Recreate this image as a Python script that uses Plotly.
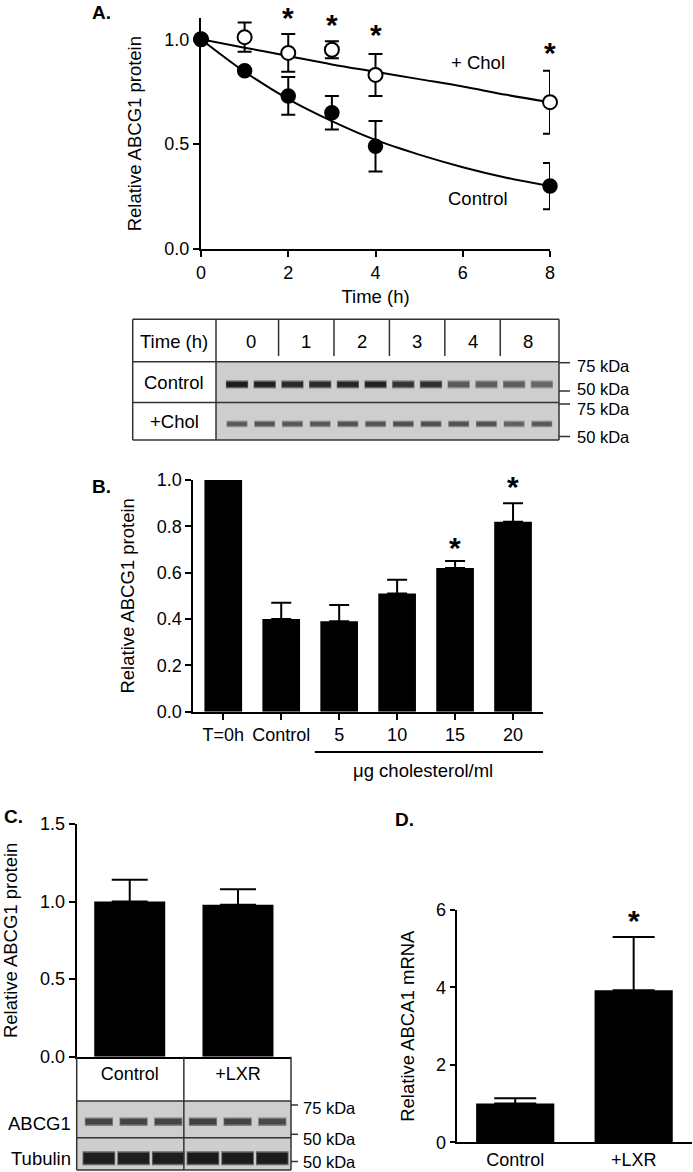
import plotly.graph_objects as go

W, H = 693, 1172
FONT = "Arial, Liberation Sans, Helvetica, sans-serif"


def px(x):
    return x / W


def py(y):
    return 1 - y / H


def to_paper(v, dom, rng):
    return dom[0] + (v - rng[0]) / (rng[1] - rng[0]) * (dom[1] - dom[0])


# ---------------- Panel A data ----------------
time_h = [0, 1, 2, 3, 4, 8]
control_mean = [1.0, 0.85, 0.73, 0.65, 0.49, 0.30]
control_sem = [0.0, 0.0, 0.09, 0.08, 0.12, 0.11]
chol_mean = [1.0, 1.01, 0.935, 0.95, 0.83, 0.70]
chol_sem = [0.0, 0.07, 0.09, 0.04, 0.10, 0.15]
fit_t = [0, 1, 2, 3, 4, 5, 6, 7, 8]
control_fit = [1.0, 0.845, 0.715, 0.61, 0.52, 0.45, 0.39, 0.34, 0.30]
chol_fit = [1.0, 0.96, 0.92, 0.88, 0.845, 0.81, 0.775, 0.735, 0.70]
sigA_t = [2, 3, 4, 8]
sigA_y = [1.128, 1.097, 1.051, 0.961]
xA_ticks = [0, 2, 4, 6, 8]
yA_ticks = [0.0, 0.5, 1.0]

# Panel A blot
blot_times = ["0", "1", "2", "3", "4", "8"]
blot_rows = ["Control", "+Chol"]
control_bands = [0.95, 0.93, 0.88, 0.87, 0.90, 0.93, 0.82, 0.85, 0.62, 0.60, 0.60, 0.55]
chol_bands = [0.64, 0.67, 0.65, 0.65, 0.68, 0.67, 0.70, 0.70, 0.68, 0.68, 0.60, 0.65]
kdaA = ["75 kDa", "50 kDa", "75 kDa", "50 kDa"]

# ---------------- Panel B data ----------------
b_cats = ["T=0h", "Control", "5", "10", "15", "20"]
b_mean = [1.0, 0.40, 0.39, 0.51, 0.62, 0.82]
b_sem = [0.0, 0.07, 0.07, 0.06, 0.03, 0.08]
sigB_cats = ["15", "20"]
sigB_y = [0.734, 0.994]
yB_ticks = [0.0, 0.2, 0.4, 0.6, 0.8, 1.0]

# ---------------- Panel C data ----------------
c_cats = ["Control", "+LXR"]
c_mean = [1.0, 0.98]
c_sem = [0.14, 0.10]
yC_ticks = [0.0, 0.5, 1.0, 1.5]
abcg1_bands = [0.74, 0.74, 0.74, 0.77, 0.75, 0.72]
tubulin_bands = [0.95, 0.95, 0.95, 0.97, 0.96, 0.96]
kdaC = ["75 kDa", "50 kDa", "50 kDa"]

# ---------------- Panel D data ----------------
d_cats = ["Control", "+LXR"]
d_mean = [1.0, 3.93]
d_sem = [0.14, 1.37]
sigD_y = [5.87]
yD_ticks = [0, 2, 4, 6]

# ---------------- layout geometry (px) ----------------
A_x = [px(201), px(550)]
A_y = [py(249), py(18.3)]
A_yr = [0, 1.1]
BL_x = [px(216), px(559)]
BL_y = [py(440), py(361.7)]
B_x = [px(193.3), px(543)]
B_y = [py(711.7), py(480)]
B_yr = [0, 1.0]
B_xr = [-0.517, 5.517]
C_x = [px(76.7), px(291)]
C_y = [py(1056.7), py(824)]
CB_x = [px(76.7), px(291)]
CB_y = [py(1170), py(1101)]
D_x = [px(456.7), px(691.7)]
D_y = [py(1142.3), py(910)]
D_yr = [0, 6]

fig = go.Figure()

# ---- Panel A traces ----
fig.add_trace(go.Scatter(x=fit_t, y=chol_fit, mode="lines", line=dict(color="black", width=2, shape="spline"),
                         xaxis="x", yaxis="y", hoverinfo="skip"))
fig.add_trace(go.Scatter(x=fit_t, y=control_fit, mode="lines", line=dict(color="black", width=2, shape="spline"),
                         xaxis="x", yaxis="y", hoverinfo="skip"))
fig.add_trace(go.Scatter(x=time_h, y=chol_mean, mode="markers",
                         marker=dict(size=14, color="white", line=dict(color="black", width=2)),
                         error_y=dict(type="data", array=chol_sem, color="black", thickness=2, width=7),
                         xaxis="x", yaxis="y", cliponaxis=False, name="+ Chol"))
fig.add_trace(go.Scatter(x=time_h, y=control_mean, mode="markers",
                         marker=dict(size=14, color="black", line=dict(color="black", width=1.5)),
                         error_y=dict(type="data", array=control_sem, color="black", thickness=2, width=7),
                         xaxis="x", yaxis="y", cliponaxis=False, name="Control"))


# ---- blot bands helper ----
def gray(i):
    v = int(round(205 - 185 * i))
    return f"rgb({v},{v},{v})"


def soft(i):
    v = int(round(205 - 110 * i))
    return f"rgb({v},{v},{v})"


def band_trace(vals, rowpos, xa, ya, size, thick):
    lanes = list(range(1, len(vals) + 1))
    out = []
    out.append(go.Scatter(x=lanes, y=[rowpos] * len(vals), mode="markers", xaxis=xa, yaxis=ya,
                          marker=dict(symbol="line-ew", size=size * 1.06,
                                      line=dict(width=thick + 3, color=[soft(v) for v in vals])),
                          hoverinfo="skip", cliponaxis=False))
    out.append(go.Scatter(x=lanes, y=[rowpos] * len(vals), mode="markers", xaxis=xa, yaxis=ya,
                          marker=dict(symbol="line-ew", size=size,
                                      line=dict(width=thick, color=[gray(v) for v in vals])),
                          hoverinfo="skip", cliponaxis=False))
    return out


for t in band_trace(control_bands, 0.58, "x2", "y2", 15, 5):
    fig.add_trace(t)
for t in band_trace(chol_bands, 1.59, "x2", "y2", 14, 3.5):
    fig.add_trace(t)

# ---- Panel B ----
fig.add_trace(go.Bar(x=b_cats, y=b_mean, width=0.65, marker=dict(color="black", line=dict(width=0)),
                     error_y=dict(type="data", array=b_sem, arrayminus=[0] * len(b_sem), symmetric=False,
                                  color="black", thickness=2, width=10),
                     xaxis="x3", yaxis="y3"))

# ---- Panel C ----
fig.add_trace(go.Bar(x=c_cats, y=c_mean, width=0.656, marker=dict(color="black", line=dict(width=0)),
                     error_y=dict(type="data", array=c_sem, arrayminus=[0] * len(c_sem), symmetric=False,
                                  color="black", thickness=2, width=18),
                     xaxis="x4", yaxis="y4"))
for t in band_trace(abcg1_bands, 0.6, "x5", "y5", 19, 5.5):
    fig.add_trace(t)
for t in band_trace(tubulin_bands, 1.66, "x5", "y5", 22, 11):
    fig.add_trace(t)

# ---- Panel D ----
fig.add_trace(go.Bar(x=d_cats, y=d_mean, width=0.66, marker=dict(color="black", line=dict(width=0)),
                     error_y=dict(type="data", array=d_sem, arrayminus=[0] * len(d_sem), symmetric=False,
                                  color="black", thickness=2, width=21),
                     xaxis="x6", yaxis="y6"))

tickfont = dict(family=FONT, size=18, color="black")
titlefont = dict(family=FONT, size=18.5, color="black")
common = dict(showgrid=False, zeroline=False, showline=True, linecolor="black", linewidth=2, automargin=False,
              tickcolor="black", tickwidth=2, tickfont=tickfont, fixedrange=True)
hidden = dict(visible=False, showgrid=False, zeroline=False, fixedrange=True, automargin=False)

fig.update_layout(
    template="none",
    width=W, height=H, margin=dict(l=0, r=0, t=0, b=0, pad=0, autoexpand=False),
    paper_bgcolor="white", plot_bgcolor="rgba(0,0,0,0)",
    showlegend=False, font=dict(family=FONT, color="black"),
    xaxis=dict(domain=A_x, range=[0, 8], tickvals=xA_ticks, ticks="outside", ticklen=6,
               title=dict(text="Time (h)", font=titlefont, standoff=8), anchor="y", **common),
    yaxis=dict(domain=A_y, range=A_yr, tickvals=yA_ticks, ticktext=[f"{v:.1f}" for v in yA_ticks],
               ticks="outside", ticklen=6, title=dict(text="Relative ABCG1 protein", font=titlefont, standoff=18),
               anchor="x", **common),
    xaxis2=dict(domain=BL_x, range=[0.242, 12.62], anchor="y2", **hidden),
    yaxis2=dict(domain=BL_y, range=[2.0, 0.0], anchor="x2", **hidden),
    xaxis3=dict(domain=B_x, range=B_xr, type="category", ticks="outside", ticklen=6, anchor="y3", **common),
    yaxis3=dict(domain=B_y, range=B_yr, tickvals=yB_ticks, ticktext=[f"{v:.1f}" for v in yB_ticks],
                ticks="outside", ticklen=6, title=dict(text="Relative ABCG1 protein", font=titlefont, standoff=17),
                anchor="x3", **common),
    xaxis4=dict(domain=C_x, range=[-0.49, 1.49], type="category", ticks="", anchor="y4", **common),
    yaxis4=dict(domain=C_y, range=[0, 1.5], tickvals=yC_ticks, ticktext=[f"{v:.1f}" for v in yC_ticks],
                ticks="outside", ticklen=6, title=dict(text="Relative ABCG1 protein", font=titlefont, standoff=20),
                anchor="x4", **common),
    xaxis5=dict(domain=CB_x, range=[0.36, 6.54], anchor="y5", **hidden),
    yaxis5=dict(domain=CB_y, range=[2.0, 0.0], anchor="x5", **hidden),
    xaxis6=dict(domain=D_x, range=[-0.494, 1.49], type="category", ticks="", anchor="y6", **common),
    yaxis6=dict(domain=D_y, range=D_yr, tickvals=yD_ticks, ticks="outside", ticklen=5,
                title=dict(text="Relative ABCA1 mRNA", font=titlefont, standoff=17), anchor="x6", **common),
)

shapes = []
ann = []
LC = "#333333"


def line(x0, y0, x1, y1, w=1.5, xref="paper", yref="paper", color=LC):
    shapes.append(dict(type="line", x0=x0, y0=y0, x1=x1, y1=y1, xref=xref, yref=yref,
                       line=dict(color=color, width=w), layer="above"))


def text(x, y, s, size=18.5, xref="paper", yref="paper", xanchor="center", yanchor="middle", bold=False, yshift=0):
    ann.append(dict(x=x, y=y, xref=xref, yref=yref, text=f"<b>{s}</b>" if bold else s, showarrow=False,
                    xanchor=xanchor, yanchor=yanchor, yshift=yshift,
                    font=dict(family=FONT, size=size, color="black")))


# panel letters
text(px(90), py(13), "A.", size=19, xanchor="left", bold=True)
text(px(90), py(486), "B.", size=19, xanchor="left", bold=True)
text(px(2), py(816), "C.", size=19, xanchor="left", bold=True)
text(px(393), py(819), "D.", size=19, xanchor="left", bold=True)

# A: series labels & significance
text(6.35, 0.89, "+ Chol", xref="x", yref="y")
text(6.35, 0.243, "Control", xref="x", yref="y")
for t, v in zip(sigA_t, sigA_y):
    text(t, to_paper(v, A_y, A_yr), "*", size=30, xref="x", bold=True, yshift=-5.5)

# A: blot table
shapes.append(dict(type="rect", xref="paper", yref="paper", x0=px(216), x1=px(559), y0=py(440), y1=py(361.7),
                   fillcolor="rgb(206,206,206)", line=dict(width=0), layer="below"))
line(px(132.7), py(319.3), px(559), py(319.3))
line(px(132.7), py(440), px(559), py(440))
line(px(132.7), py(319.3), px(132.7), py(440))
line(px(559), py(319.3), px(559), py(440))
line(px(216), py(319.3), px(216), py(440))
line(px(132.7), py(361.7), px(559), py(361.7))
line(px(132.7), py(402.6), px(559), py(402.6))
for k in range(1, len(blot_times)):
    line(2 * k + 0.5, py(319.3), 2 * k + 0.5, py(356), xref="x2")
text(px(174.4), py(341.7), "Time (h)")
for k, lab in enumerate(blot_times):
    text(2 * k + 1.5, py(341.7), lab, xref="x2")
text(px(174.4), py(382.5), blot_rows[0])
text(px(174.4), py(421.5), blot_rows[1])
for lab, ty, ly in zip(kdaA, [366, 389.5, 408.5, 436.5], [362.7, 391, 404, 436.5]):
    line(px(559), py(ly), px(570), py(ly))
    text(px(575), py(ty), lab, size=16.5, xanchor="left")

# B extras
for c, v in zip(sigB_cats, sigB_y):
    text(b_cats.index(c), to_paper(v, B_y, B_yr), "*", size=30, xref="x3", bold=True, yshift=-5.5)
line(1.58, py(752), B_xr[1], py(752), w=2, xref="x3", color="black")
text(3.44, py(770), "\u03bcg cholesterol/ml", xref="x3")

# C table
shapes.append(dict(type="rect", xref="paper", yref="paper", x0=px(76.7), x1=px(291), y0=py(1170), y1=py(1101),
                   fillcolor="rgb(206,206,206)", line=dict(width=0), layer="below"))
line(px(76.7), py(1056.7), px(76.7), py(1170))
line(px(291), py(1056.7), px(291), py(1170))
line(0.5, py(1056.7), 0.5, py(1170), xref="x4")
line(px(76.7), py(1101), px(291), py(1101))
line(px(76.7), py(1137.7), px(291), py(1137.7))
line(px(76.7), py(1170), px(291), py(1170))
text(px(73), py(1123), "ABCG1", xanchor="right")
text(px(73), py(1158), "Tubulin", xanchor="right")
for lab, ty, ly in zip(kdaC, [1108, 1138.5, 1161.5], [1105, 1134.3, 1161.5]):
    line(px(291), py(ly), px(298), py(ly))
    text(px(301), py(ty), lab, size=16.5, xanchor="left")

# D significance
text(1, to_paper(sigD_y[0], D_y, D_yr), "*", size=30, xref="x6", bold=True, yshift=-5.5)

fig.update_layout(shapes=shapes, annotations=ann)
fig.write_html("out.html", config={"displayModeBar": False, "staticPlot": True},
               post_script="document.body.style.margin='0';document.body.style.padding='0';"
                           "document.documentElement.style.overflow='hidden';")
